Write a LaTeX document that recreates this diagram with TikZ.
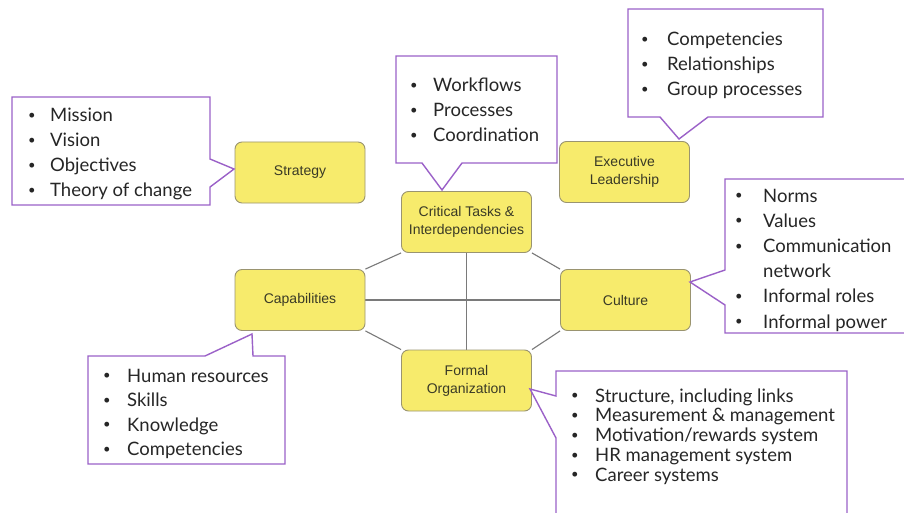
\documentclass[tikz,border=0pt]{standalone}
\usepackage{fontspec}
\setmainfont{Liberation Sans}
\newfontfamily\callfont{Lato}
\usetikzlibrary{backgrounds}
\definecolor{boxyellow}{HTML}{F7EB6C}
\definecolor{boxborder}{HTML}{9A9470}
\definecolor{boxtext}{HTML}{3A3A26}
\definecolor{callpurple}{HTML}{9B61C8}
\definecolor{linkgray}{HTML}{7A7A7A}
\newcommand\itm[1][21pt]{\makebox[#1][l]{\raisebox{0.12em}{\scalebox{0.7}{\textbullet}}}}
\begin{document}
\begin{tikzpicture}[x=1pt,y=-1pt,
  factor/.style={draw=boxborder, fill=boxyellow, rounded corners=7pt, minimum width=130pt, minimum height=61pt, align=center, font=\fontsize{14}{18}\selectfont, text=boxtext, line width=0.9pt},
  callout/.style={draw=callpurple, fill=white, line width=1.4pt, line join=miter},
  calltext/.style={anchor=base west, inner sep=0pt, text=black!85},
  link/.style={draw=linkgray, line width=1.1pt}]
\useasboundingbox (0,0) rectangle (904,513);
\clip (0,0) rectangle (904,513);

% factor boxes
\node[factor] (strategy) at (300,172.5) {Strategy};
\node[factor] (crit) at (466.5,222) {Critical Tasks \&\\Interdependencies};
\node[factor] (exec) at (624.5,172) {Executive\\Leadership};
\node[factor] (cap) at (300,300) {Capabilities};
\node[factor] (cult) at (625.5,300) {Culture};
\node[factor] (form) at (466.5,380.5) {Formal\\Organization};

% connectors
\begin{pgfonlayer}{background}
\fill[white] (0,0) rectangle (904,513);
\draw[link] (crit.south west) -- (cap.north east);
\draw[link] (crit.south east) -- (cult.north west);
\draw[link] (cap.south east) -- (form.north west);
\draw[link] (cult.south west) -- (form.north east);
\draw[link] (crit.south) -- (form.north);
\draw[link] (cap.east) -- (cult.west);
\end{pgfonlayer}

% callouts
\draw[callout] (12,97) -- (210,97) -- (210,159) -- (234,169) -- (210,187) -- (210,205) -- (12,205) -- cycle;
\draw[callout] (396,56) -- (557,56) -- (557,163) -- (462,163) -- (442,190) -- (422,163) -- (396,163) -- cycle;
\draw[callout] (628,9) -- (823,9) -- (823,117) -- (708,117) -- (679,139) -- (660,117) -- (628,117) -- cycle;
\draw[callout] (725,179) -- (912,179) -- (912,333) -- (725,333) -- (725,305) -- (690,282) -- (725,270) -- cycle;
\draw[callout] (88,356) -- (205,356) -- (252,334) -- (253,356) -- (285,356) -- (285,464) -- (88,464) -- cycle;
\draw[callout] (556,371) -- (847,371) -- (847,525) -- (556,525) -- (556,438) -- (530,389) -- (556,396) -- cycle;

% callout texts
\node[calltext, font=\callfont\fontsize{18.5}{25}\selectfont] (tstrat) at (28,122)
  {\begin{tabular}[t]{@{}l@{}}\itm[22pt]Mission\\\itm[22pt]Vision\\\itm[22pt]Objectives\\\itm[22pt]Theory of change\end{tabular}};
\node[calltext, font=\callfont\fontsize{18.5}{25}\selectfont] (tcrit) at (410,92)
  {\begin{tabular}[t]{@{}l@{}}\itm[23pt]Workflows\\\itm[23pt]Processes\\\itm[23pt]Coordination\end{tabular}};
\node[calltext, font=\callfont\fontsize{18.5}{25}\selectfont] (texec) at (641,46)
  {\begin{tabular}[t]{@{}l@{}}\itm[26pt]Competencies\\\itm[26pt]Relationships\\\itm[26pt]Group processes\end{tabular}};
\node[calltext, font=\callfont\fontsize{18.5}{25.2}\selectfont] (tcult) at (735,202)
  {\begin{tabular}[t]{@{}l@{}}\itm[28pt]Norms\\\itm[28pt]Values\\\itm[28pt]Communication\\\hspace*{28pt}network\\\itm[28pt]Informal roles\\\itm[28pt]Informal power\end{tabular}};
\node[calltext, font=\callfont\fontsize{18.5}{24.5}\selectfont] (tcap) at (103,382)
  {\begin{tabular}[t]{@{}l@{}}\itm[24pt]Human resources\\\itm[24pt]Skills\\\itm[24pt]Knowledge\\\itm[24pt]Competencies\end{tabular}};
\node[calltext, font=\callfont\fontsize{18.5}{19.8}\selectfont] (tform) at (571,402)
  {\begin{tabular}[t]{@{}l@{}}\itm[24pt]Structure, including links\\\itm[24pt]Measurement \& management\\\itm[24pt]Motivation/rewards system\\\itm[24pt]HR management system\\\itm[24pt]Career systems\end{tabular}};
\end{tikzpicture}
\end{document}
